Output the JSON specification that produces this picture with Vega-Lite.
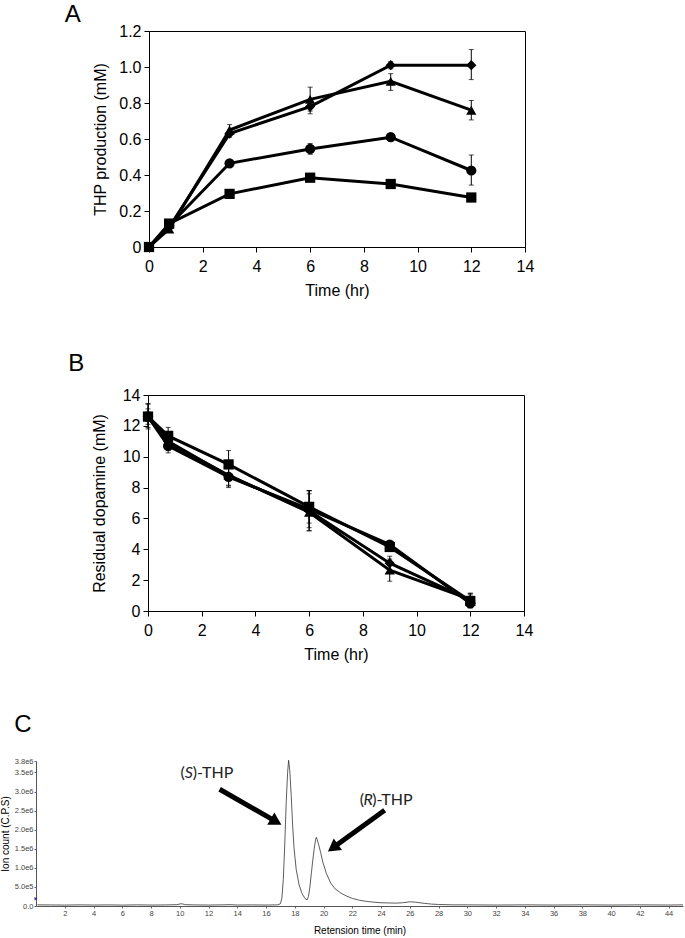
{
  "$schema": "https://vega.github.io/schema/vega-lite/v6.json",
  "padding": {"top": 2, "left": 0, "right": 0, "bottom": 0},
  "background": "white",
  "datasets": {
    "thp": [
      {"s": "diamond", "t": 0, "v": 0},
      {"s": "diamond", "t": 0.75, "v": 0.11},
      {"s": "diamond", "t": 3, "v": 0.63, "lo": 0.61, "hi": 0.65},
      {"s": "diamond", "t": 6, "v": 0.78, "lo": 0.74, "hi": 0.82},
      {"s": "diamond", "t": 9, "v": 1.01, "lo": 0.99, "hi": 1.03},
      {"s": "diamond", "t": 12, "v": 1.01, "lo": 0.93, "hi": 1.097},
      {"s": "triangle", "t": 0, "v": 0},
      {"s": "triangle", "t": 0.75, "v": 0.10},
      {"s": "triangle", "t": 3, "v": 0.65, "lo": 0.62, "hi": 0.68},
      {"s": "triangle", "t": 6, "v": 0.82, "lo": 0.755, "hi": 0.888},
      {"s": "triangle", "t": 9, "v": 0.92, "lo": 0.87, "hi": 0.963},
      {"s": "triangle", "t": 12, "v": 0.76, "lo": 0.706, "hi": 0.814},
      {"s": "circle", "t": 0, "v": 0},
      {"s": "circle", "t": 0.75, "v": 0.12},
      {"s": "circle", "t": 3, "v": 0.465},
      {"s": "circle", "t": 6, "v": 0.545, "lo": 0.515, "hi": 0.575},
      {"s": "circle", "t": 9, "v": 0.61, "lo": 0.59, "hi": 0.63},
      {"s": "circle", "t": 12, "v": 0.425, "lo": 0.344, "hi": 0.511},
      {"s": "square", "t": 0, "v": 0},
      {"s": "square", "t": 0.75, "v": 0.13},
      {"s": "square", "t": 3, "v": 0.295},
      {"s": "square", "t": 6, "v": 0.385, "lo": 0.365, "hi": 0.405},
      {"s": "square", "t": 9, "v": 0.35},
      {"s": "square", "t": 12, "v": 0.275}
    ],
    "dopa": [
      {"s": "square", "t": 0, "v": 12.6, "lo": 11.9, "hi": 13.45},
      {"s": "square", "t": 0.75, "v": 11.35, "lo": 10.85, "hi": 11.9},
      {"s": "square", "t": 3, "v": 9.5, "lo": 8.63, "hi": 10.4},
      {"s": "square", "t": 6, "v": 6.75, "lo": 5.7, "hi": 7.8},
      {"s": "square", "t": 9, "v": 4.15, "lo": 3.95, "hi": 4.35},
      {"s": "square", "t": 12, "v": 0.65, "lo": 0.25, "hi": 1.05},
      {"s": "circle", "t": 0, "v": 12.6, "lo": 12.3, "hi": 12.9},
      {"s": "circle", "t": 0.75, "v": 10.7, "lo": 10.25, "hi": 11.15},
      {"s": "circle", "t": 3, "v": 8.7, "lo": 8.1, "hi": 9.3},
      {"s": "circle", "t": 6, "v": 6.6, "lo": 5.4, "hi": 7.8},
      {"s": "circle", "t": 9, "v": 4.3, "lo": 4.1, "hi": 4.5},
      {"s": "circle", "t": 12, "v": 0.5, "lo": 0.2, "hi": 0.8},
      {"s": "diamond", "t": 0, "v": 12.6, "lo": 12.1, "hi": 13.1},
      {"s": "diamond", "t": 0.75, "v": 11.0, "lo": 10.5, "hi": 11.5},
      {"s": "diamond", "t": 3, "v": 8.75, "lo": 8.15, "hi": 9.35},
      {"s": "diamond", "t": 6, "v": 6.5, "lo": 5.2, "hi": 7.8},
      {"s": "diamond", "t": 9, "v": 3.1, "lo": 2.65, "hi": 3.55},
      {"s": "diamond", "t": 12, "v": 0.7, "lo": 0.25, "hi": 1.15},
      {"s": "triangle", "t": 0, "v": 12.6, "lo": 11.8, "hi": 13.4},
      {"s": "triangle", "t": 0.75, "v": 10.9, "lo": 10.4, "hi": 11.4},
      {"s": "triangle", "t": 3, "v": 8.8, "lo": 8.0, "hi": 9.6},
      {"s": "triangle", "t": 6, "v": 6.4, "lo": 5.2, "hi": 7.6},
      {"s": "triangle", "t": 9, "v": 2.65, "lo": 1.93, "hi": 3.37},
      {"s": "triangle", "t": 12, "v": 0.75, "lo": 0.35, "hi": 1.15}
    ],
    "chrom": [
      {"t": 0.1, "c": 30000}, {"t": 1, "c": 28000}, {"t": 2, "c": 24000}, {"t": 3, "c": 30000},
      {"t": 4, "c": 25000}, {"t": 5, "c": 29000}, {"t": 6, "c": 24000}, {"t": 7, "c": 30000},
      {"t": 8, "c": 25000}, {"t": 9, "c": 28000}, {"t": 9.8, "c": 35000}, {"t": 10.1, "c": 60000},
      {"t": 10.4, "c": 35000}, {"t": 11, "c": 29000}, {"t": 12, "c": 25000}, {"t": 13, "c": 30000},
      {"t": 13.5, "c": 35000}, {"t": 14, "c": 25000}, {"t": 15, "c": 29000}, {"t": 16, "c": 25000},
      {"t": 16.8, "c": 30000}, {"t": 17.0, "c": 60000}, {"t": 17.1, "c": 200000}, {"t": 17.2, "c": 700000},
      {"t": 17.3, "c": 1600000}, {"t": 17.4, "c": 2700000}, {"t": 17.5, "c": 3500000}, {"t": 17.57, "c": 3820000},
      {"t": 17.65, "c": 3550000}, {"t": 17.75, "c": 2900000}, {"t": 17.85, "c": 2100000}, {"t": 17.95, "c": 1500000},
      {"t": 18.1, "c": 950000}, {"t": 18.3, "c": 550000}, {"t": 18.5, "c": 330000}, {"t": 18.7, "c": 200000},
      {"t": 18.85, "c": 160000}, {"t": 18.95, "c": 250000}, {"t": 19.05, "c": 500000}, {"t": 19.15, "c": 850000},
      {"t": 19.25, "c": 1200000}, {"t": 19.35, "c": 1500000}, {"t": 19.45, "c": 1750000}, {"t": 19.5, "c": 1800000},
      {"t": 19.55, "c": 1750000}, {"t": 19.65, "c": 1620000}, {"t": 19.8, "c": 1400000}, {"t": 19.95, "c": 1150000},
      {"t": 20.2, "c": 850000}, {"t": 20.5, "c": 600000}, {"t": 20.8, "c": 450000}, {"t": 21.2, "c": 340000},
      {"t": 21.6, "c": 260000}, {"t": 22, "c": 200000}, {"t": 22.5, "c": 150000}, {"t": 23, "c": 120000},
      {"t": 23.5, "c": 100000}, {"t": 24, "c": 85000}, {"t": 24.5, "c": 80000}, {"t": 25, "c": 75000},
      {"t": 25.5, "c": 85000}, {"t": 26, "c": 110000}, {"t": 26.4, "c": 100000}, {"t": 27, "c": 70000},
      {"t": 27.5, "c": 50000}, {"t": 28, "c": 40000}, {"t": 29, "c": 30000}, {"t": 30, "c": 30000},
      {"t": 32, "c": 25000}, {"t": 34, "c": 30000}, {"t": 36, "c": 25000}, {"t": 38, "c": 30000},
      {"t": 40, "c": 25000}, {"t": 42, "c": 30000}, {"t": 44, "c": 25000}, {"t": 45, "c": 30000}
    ],
    "arrows": [
      {"name": "S", "t": 12.77, "c": 3060000, "t2": 16.70, "c2": 2210000},
      {"name": "R", "t": 24.25, "c": 2510000, "t2": 20.65, "c2": 1525000}
    ],
    "heads": [
      {"name": "S", "t": 16.70, "c": 2210000},
      {"name": "R", "t": 20.65, "c": 1525000}
    ],
    "labels": [
      {"name": "S", "t": 10.63, "c": 3480000, "open": "(", "letter": "S", "rest": ")-THP"},
      {"name": "R", "t": 23.1, "c": 2770000, "open": "(", "letter": "R", "rest": ")-THP"}
    ],
    "marker": [
      {"t": 0, "c": 190000}
    ]
  },
  "vconcat": [
    {
      "spacing": 52,
      "vconcat": [
        {
          "spacing": 0,
          "hconcat": [
            {"width": 28, "height": 1, "data": {"values": []}, "mark": "point", "view": {"stroke": null}},
            {
              "title": {"text": "A", "dx": -28, "offset": -4},
              "width": 376,
              "height": 216,
              "data": {"name": "thp"},
              "encoding": {
                "x": {"field": "t", "type": "quantitative", "title": "Time (hr)", "scale": {"domain": [0, 14], "nice": false},
                  "axis": {"values": [0, 2, 4, 6, 8, 10, 12, 14], "labelOverlap": false, "labelFontSize": 16, "titleFontSize": 16, "tickSize": 5, "labelPadding": 6, "titlePadding": 8, "labelFlush": false}}
              },
              "layer": [
                {
                  "mark": {"type": "line", "color": "black", "strokeWidth": 3},
                  "encoding": {
                    "y": {"field": "v", "type": "quantitative", "title": "THP production (mM)", "scale": {"domain": [0, 1.2], "nice": false},
                      "axis": {"values": [0, 0.2, 0.4, 0.6, 0.8, 1.0, 1.2], "labelOverlap": false, "labelExpr": "datum.value === 0 ? '0' : format(datum.value, '.1f')", "labelFontSize": 16, "titleFontSize": 16, "tickSize": 5, "labelPadding": 3, "titlePadding": 10}},
                    "detail": {"field": "s"}
                  }
                },
                {
                  "mark": {"type": "rule", "color": "black", "strokeWidth": 1},
                  "encoding": {"y": {"field": "lo", "type": "quantitative", "title": "THP production (mM)",
                      "axis": {"values": [0, 0.2, 0.4, 0.6, 0.8, 1.0, 1.2], "labelOverlap": false, "labelExpr": "datum.value === 0 ? '0' : format(datum.value, '.1f')", "labelFontSize": 16, "titleFontSize": 16, "tickSize": 5, "labelPadding": 3, "titlePadding": 10}}, "y2": {"field": "hi"}}
                },
                {
                  "mark": {"type": "tick", "orient": "horizontal", "color": "black", "thickness": 1, "size": 5},
                  "encoding": {"y": {"field": "lo", "type": "quantitative", "title": "THP production (mM)",
                      "axis": {"values": [0, 0.2, 0.4, 0.6, 0.8, 1.0, 1.2], "labelOverlap": false, "labelExpr": "datum.value === 0 ? '0' : format(datum.value, '.1f')", "labelFontSize": 16, "titleFontSize": 16, "tickSize": 5, "labelPadding": 3, "titlePadding": 10}}}
                },
                {
                  "mark": {"type": "tick", "orient": "horizontal", "color": "black", "thickness": 1, "size": 5},
                  "encoding": {"y": {"field": "hi", "type": "quantitative", "title": "THP production (mM)",
                      "axis": {"values": [0, 0.2, 0.4, 0.6, 0.8, 1.0, 1.2], "labelOverlap": false, "labelExpr": "datum.value === 0 ? '0' : format(datum.value, '.1f')", "labelFontSize": 16, "titleFontSize": 16, "tickSize": 5, "labelPadding": 3, "titlePadding": 10}}}
                },
                {
                  "mark": {"type": "point", "filled": true, "color": "black", "opacity": 1, "size": 105},
                  "encoding": {
                    "y": {"field": "v", "type": "quantitative", "title": "THP production (mM)",
                      "axis": {"values": [0, 0.2, 0.4, 0.6, 0.8, 1.0, 1.2], "labelOverlap": false, "labelExpr": "datum.value === 0 ? '0' : format(datum.value, '.1f')", "labelFontSize": 16, "titleFontSize": 16, "tickSize": 5, "labelPadding": 3, "titlePadding": 10}},
                    "shape": {"field": "s", "type": "nominal", "scale": {"domain": ["diamond", "triangle", "circle", "square"], "range": ["diamond", "triangle-up", "circle", "square"]}, "legend": null}
                  }
                }
              ]
            }
          ]
        },
        {
          "spacing": 0,
          "hconcat": [
            {"width": 31, "height": 1, "data": {"values": []}, "mark": "point", "view": {"stroke": null}},
            {
              "title": {"text": "B", "dx": -23, "offset": 11},
              "width": 376,
              "height": 216,
              "data": {"name": "dopa"},
              "encoding": {
                "x": {"field": "t", "type": "quantitative", "title": "Time (hr)", "scale": {"domain": [0, 14], "nice": false},
                  "axis": {"values": [0, 2, 4, 6, 8, 10, 12, 14], "labelOverlap": false, "labelFontSize": 16, "titleFontSize": 16, "tickSize": 5, "labelPadding": 6, "titlePadding": 8, "labelFlush": false}}
              },
              "layer": [
                {
                  "mark": {"type": "line", "color": "black", "strokeWidth": 3},
                  "encoding": {
                    "y": {"field": "v", "type": "quantitative", "title": "Residual dopamine (mM)", "scale": {"domain": [0, 14], "nice": false},
                      "axis": {"values": [0, 2, 4, 6, 8, 10, 12, 14], "labelOverlap": false, "labelFontSize": 16, "titleFontSize": 16, "tickSize": 5, "labelPadding": 3, "titlePadding": 15}},
                    "detail": {"field": "s"}
                  }
                },
                {
                  "mark": {"type": "rule", "color": "black", "strokeWidth": 1},
                  "encoding": {"y": {"field": "lo", "type": "quantitative", "title": "Residual dopamine (mM)",
                      "axis": {"values": [0, 2, 4, 6, 8, 10, 12, 14], "labelOverlap": false, "labelFontSize": 16, "titleFontSize": 16, "tickSize": 5, "labelPadding": 3, "titlePadding": 15}}, "y2": {"field": "hi"}}
                },
                {
                  "mark": {"type": "tick", "orient": "horizontal", "color": "black", "thickness": 1, "size": 5},
                  "encoding": {"y": {"field": "lo", "type": "quantitative", "title": "Residual dopamine (mM)",
                      "axis": {"values": [0, 2, 4, 6, 8, 10, 12, 14], "labelOverlap": false, "labelFontSize": 16, "titleFontSize": 16, "tickSize": 5, "labelPadding": 3, "titlePadding": 15}}}
                },
                {
                  "mark": {"type": "tick", "orient": "horizontal", "color": "black", "thickness": 1, "size": 5},
                  "encoding": {"y": {"field": "hi", "type": "quantitative", "title": "Residual dopamine (mM)",
                      "axis": {"values": [0, 2, 4, 6, 8, 10, 12, 14], "labelOverlap": false, "labelFontSize": 16, "titleFontSize": 16, "tickSize": 5, "labelPadding": 3, "titlePadding": 15}}}
                },
                {
                  "mark": {"type": "point", "filled": true, "color": "black", "opacity": 1, "size": 105},
                  "encoding": {
                    "y": {"field": "v", "type": "quantitative", "title": "Residual dopamine (mM)",
                      "axis": {"values": [0, 2, 4, 6, 8, 10, 12, 14], "labelOverlap": false, "labelFontSize": 16, "titleFontSize": 16, "tickSize": 5, "labelPadding": 3, "titlePadding": 15}},
                    "shape": {"field": "s", "type": "nominal", "scale": {"domain": ["diamond", "triangle", "circle", "square"], "range": ["diamond", "triangle-up", "circle", "square"]}, "legend": null}
                  }
                }
              ]
            }
          ]
        }
      ]
    },
    {
      "title": {"text": "C", "dx": 14, "offset": 20},
      "width": 647,
      "height": 145,
      "view": {"stroke": null},
      "encoding": {
        "x": {"field": "t", "type": "quantitative", "title": "Retension time (min)", "scale": {"domain": [0, 45], "nice": false},
          "axis": {"values": [2, 4, 6, 8, 10, 12, 14, 16, 18, 20, 22, 24, 26, 28, 30, 32, 34, 36, 38, 40, 42, 44], "labelOverlap": false, "labelFontSize": 7.5, "labelColor": "#444444", "titleFontSize": 10, "tickSize": 2, "tickColor": "#666666", "domainColor": "#555555", "labelPadding": 1, "titlePadding": 9}},
        "y": {"field": "c", "type": "quantitative", "title": "Ion count (C.P.S)", "scale": {"domain": [0, 3800000], "nice": false},
          "axis": {"values": [0, 500000, 1000000, 1500000, 2000000, 2500000, 3000000, 3500000, 3800000], "labelOverlap": false, "labelExpr": "datum.value === 0 ? '0.0' : replace(format(datum.value, '.1e'), '+', '')", "labelFontSize": 7.5, "labelColor": "#444444", "titleFontSize": 10, "tickSize": 2, "tickColor": "#666666", "domainColor": "#555555", "labelPadding": 1, "titlePadding": 4}}
      },
      "layer": [
        {
          "data": {"name": "chrom"},
          "mark": {"type": "line", "color": "#333333", "strokeWidth": 0.8}
        },
        {
          "data": {"name": "marker"},
          "mark": {"type": "point", "shape": "triangle-right", "filled": true, "color": "#2b2b9c", "opacity": 1, "size": 12}
        },
        {
          "data": {"name": "arrows"},
          "mark": {"type": "rule", "color": "black", "strokeWidth": 5},
          "encoding": {"x2": {"field": "t2"}, "y2": {"field": "c2"}}
        },
        {
          "data": {"name": "heads"},
          "transform": [{"filter": "datum.name === 'S'"}],
          "mark": {"type": "point", "shape": "triangle-up", "angle": 120, "filled": true, "color": "black", "opacity": 1, "size": 200}
        },
        {
          "data": {"name": "heads"},
          "transform": [{"filter": "datum.name === 'R'"}],
          "mark": {"type": "point", "shape": "triangle-up", "angle": 234, "filled": true, "color": "black", "opacity": 1, "size": 200}
        },
        {
          "data": {"name": "labels"},
          "mark": {"type": "text", "font": "Lato", "fontSize": 16, "align": "right", "baseline": "middle", "dx": -4, "color": "#222222"},
          "encoding": {"text": {"field": "open"}}
        },
        {
          "data": {"name": "labels"},
          "mark": {"type": "text", "font": "Lato", "fontSize": 16, "fontStyle": "italic", "align": "center", "baseline": "middle", "color": "#222222"},
          "encoding": {"text": {"field": "letter"}}
        },
        {
          "data": {"name": "labels"},
          "mark": {"type": "text", "font": "Lato", "fontSize": 16, "align": "left", "baseline": "middle", "dx": 4, "color": "#222222"},
          "encoding": {"text": {"field": "rest"}}
        }
      ]
    }
  ],
  "spacing": 50,
  "config": {
    "view": {"stroke": "black", "strokeWidth": 1},
    "axis": {"grid": false, "domainColor": "black", "tickColor": "black", "labelColor": "black", "titleColor": "black", "labelFont": "Liberation Sans", "titleFont": "Liberation Sans", "titleFontWeight": "normal", "labelOverlap": false},
    "title": {"font": "Liberation Sans", "fontSize": 24, "fontWeight": "normal", "anchor": "start", "frame": "bounds", "color": "black"}
  }
}
